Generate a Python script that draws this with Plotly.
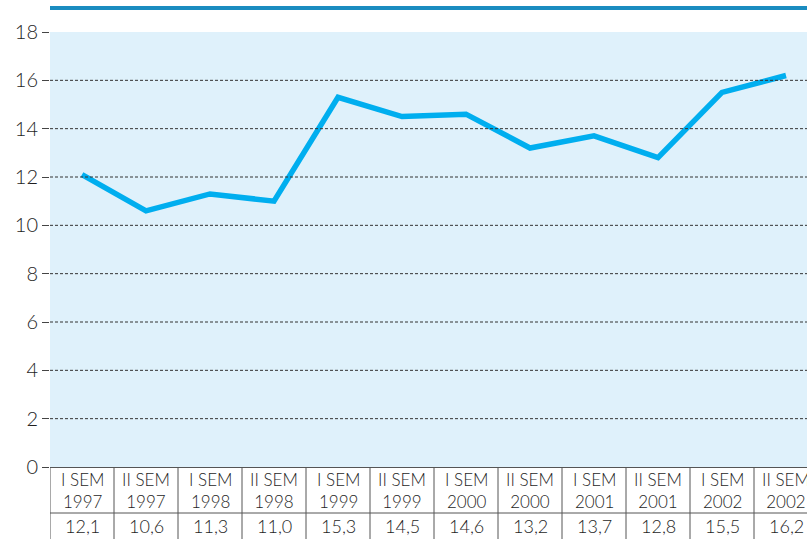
import plotly.graph_objects as go

periods = ["I SEM<br>1997", "II SEM<br>1997", "I SEM<br>1998", "II SEM<br>1998",
           "I SEM<br>1999", "II SEM<br>1999", "I SEM<br>2000", "II SEM<br>2000",
           "I SEM<br>2001", "II SEM<br>2001", "I SEM<br>2002", "II SEM<br>2002"]
values = [12.1, 10.6, 11.3, 11.0, 15.3, 14.5, 14.6, 13.2, 13.7, 12.8, 15.5, 16.2]
y_ticks = [0, 2, 4, 6, 8, 10, 12, 14, 16, 18]

W, H = 807, 539
ml, mt, mb = 50, 32, 72
plot_h = H - mt - mb
font_fam = "Lato, 'Noto Sans', sans-serif"
txt_col = "#1e1e1e"

xs = list(range(len(values)))
fig = go.Figure()
fig.add_trace(go.Scatter(x=xs, y=values, mode="lines",
                         line=dict(color="#00aeef", width=5.5),
                         hoverinfo="skip", showlegend=False))

def py(px_below):
    return -px_below / plot_h

shapes = []
# dashed gridlines
for t in y_ticks[1:-1]:
    shapes.append(dict(type="line", xref="paper", yref="y", x0=0, x1=1, y0=t, y1=t,
                       line=dict(color="#333333", width=1, dash="3px,2px"), layer="above"))
# top decorative bar
shapes.append(dict(type="line", xref="paper", yref="paper", x0=0, x1=1.05,
                   y0=1 + 24 / plot_h, y1=1 + 24 / plot_h,
                   line=dict(color="#1a8cc0", width=4)))
# table lines
for k in range(len(values) + 1):
    shapes.append(dict(type="line", xref="x", yref="paper", x0=k - 0.5, x1=k - 0.5,
                       y0=0, y1=py(80), line=dict(color="#555555", width=1)))
shapes.append(dict(type="line", xref="paper", yref="paper", x0=0, x1=1.05,
                   y0=py(46), y1=py(46), line=dict(color="#555555", width=1)))

annotations = []
for i, (p, v) in enumerate(zip(periods, values)):
    annotations.append(dict(x=i, y=py(23), xref="x", yref="paper", text=p,
                            showarrow=False,
                            font=dict(family=font_fam, size=17, color=txt_col, weight=300),
                            xanchor="center", yanchor="middle"))
    annotations.append(dict(x=i, y=py(59), xref="x", yref="paper",
                            text=f"{v:.1f}".replace(".", ","),
                            showarrow=False,
                            font=dict(family=font_fam, size=18, color=txt_col, weight=300),
                            xanchor="center", yanchor="middle"))

cat_w = 64
plot_w = W - ml
x_max = -0.5 + plot_w / cat_w

fig.update_layout(
    width=W, height=H,
    margin=dict(l=ml, r=0, t=mt, b=mb, pad=0),
    paper_bgcolor="white", plot_bgcolor="#dff1fb",
    showlegend=False,
    xaxis=dict(range=[-0.5, x_max], showticklabels=False, showgrid=False, zeroline=False,
               showline=True, linecolor="#555555", linewidth=1, ticks=""),
    yaxis=dict(range=[0, 18], tickvals=y_ticks, showgrid=False, zeroline=False,
               ticks="outside", ticklen=7, tickcolor="#444444", tickwidth=1,
               ticksuffix="\u00a0",
               tickfont=dict(family=font_fam, size=20, color=txt_col, weight=300),
               showline=False),
    shapes=shapes, annotations=annotations,
)
fig.write_html("out.html", config={"displayModeBar": False},
               post_script="document.body.style.margin='0';")
